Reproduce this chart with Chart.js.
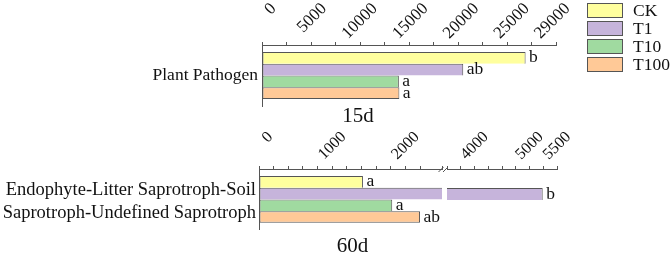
<!DOCTYPE html>
<html>
<head>
<meta charset="utf-8">
<script src="https://cdn.jsdelivr.net/npm/chart.js@4.4.1/dist/chart.umd.min.js"></script>
<style>
  body { margin: 0; background: #fff; }
  #wrap { position: relative; width: 671px; height: 256px; overflow: hidden; }
  canvas { position: absolute; }
  #top { left: 0; top: 0; }
  #botLeft { left: 0; top: 125px; }
  #botRight { left: 447px; top: 125px; }
  .leg { position: absolute; left: 587px; height: 15px; display: flex; align-items: center;
         font: 17.5px 'Liberation Serif', serif; color: #111; white-space: nowrap; }
  .leg i { display: inline-block; width: 36px; height: 15px; box-sizing: border-box;
           border: 1px solid #555; margin-right: 10px; }
</style>
</head>
<body>
<div id="wrap">
  <canvas id="top" width="671" height="125"></canvas>
  <canvas id="botLeft" width="447" height="131"></canvas>
  <canvas id="botRight" width="224" height="131"></canvas>
  <div id="legend"></div>
</div>
<script>
const seriesNames = ['CK', 'T1', 'T10', 'T100'];
const seriesColors = ['#FFFF9E', '#C6B4DB', '#A0DAA0', '#FFC997'];

// 15d panel
const pathogenCategory = ['Plant Pathogen'];
const pathogenValues = [26000, 19850, 13500, 13550];
const pathogenLetters = ['b', 'ab', 'a', 'a'];
const pathogenTicks = [0, 5000, 10000, 15000, 20000, 25000, 29000];

// 60d panel (broken axis 0-2500 | 3500-5500)
const saproCategory = [['Endophyte-Litter Saprotroph-Soil', 'Saprotroph-Undefined Saprotroph']];
const saproValues = [1420, 5240, 1820, 2200];
const saproLetters = ['a', 'b', 'a', 'ab'];
const saproTicksLow = [0, 1000, 2000];
const saproTicksHigh = [4000, 5000, 5500];

const SERIF = "'Liberation Serif', 'Times New Roman', serif";

// rotated tick labels, significance letters, panel caption, axis break
const panelDecor = {
    id: 'panelDecor',
    afterDraw(chart, args, opts) {
        const ctx = chart.ctx;
        const xs = chart.scales.x;
        ctx.save();
        ctx.fillStyle = '#111';

        ctx.font = opts.tickFont;
        ctx.textAlign = 'right';
        ctx.textBaseline = 'middle';
        (opts.ticks || []).forEach(v => {
            ctx.save();
            ctx.translate(xs.getPixelForValue(v) + 11.5, xs.bottom - opts.tickLift);
            ctx.rotate(-Math.PI / 4);
            ctx.fillText(String(v), 0, 0);
            ctx.restore();
        });

        ctx.font = '17.5px ' + SERIF;
        ctx.textAlign = 'left';
        ctx.textBaseline = 'alphabetic';
        chart.data.datasets.forEach((ds, i) => {
            const v = ds.data[0];
            if (v < xs.min || v > xs.max) return;
            const bar = chart.getDatasetMeta(i).data[0];
            ctx.fillText(opts.letters[i], bar.x + 3.5, bar.y + 4.5);
        });

        if (opts.caption) {
            ctx.font = '21px ' + SERIF;
            ctx.textAlign = 'center';
            ctx.textBaseline = 'middle';
            ctx.fillText(opts.caption.text, opts.caption.x, opts.caption.y);
        }

        if (opts.axisBreak) {
            const y = xs.bottom + 0.5;
            const x0 = chart.chartArea.right;
            ctx.strokeStyle = '#555';
            ctx.lineWidth = 1;
            [x0 - 1, x0 + 3.5].forEach(bx => {
                ctx.beginPath();
                ctx.moveTo(bx - 2.5, y + 2.5);
                ctx.lineTo(bx + 2.5, y - 2.5);
                ctx.stroke();
            });
        }
        ctx.restore();
    }
};

function makeDatasets(values) {
    return seriesNames.map((name, i) => ({
        label: name,
        data: [values[i]],
        backgroundColor: seriesColors[i],
        borderColor: '#555',
        borderWidth: { top: 1, right: 1, left: 1, bottom: i === seriesNames.length - 1 ? 1 : 0 },
        borderSkipped: false,
        clip: 0,
        categoryPercentage: 0.77,
        barPercentage: 1
    }));
}

function valueAxis(min, max, step, height) {
    return {
        type: 'linear',
        position: 'top',
        min: min,
        max: max,
        ticks: { display: false, stepSize: step },
        grid: { drawOnChartArea: false, tickLength: 3, color: '#555' },
        border: { color: '#555' },
        afterFit: s => { s.height = height; }
    };
}

function categoryAxis(width, pad, size, shift) {
    return {
        position: 'left',
        grid: { display: false, drawTicks: false },
        border: { color: '#555' },
        ticks: { color: '#111', padding: pad, labelOffset: shift, font: { family: SERIF, size: size, lineHeight: 1.25 } },
        afterFit: s => { s.width = width; }
    };
}

const baseOptions = {
    indexAxis: 'y',
    responsive: false,
    animation: false,
    events: []
};

new Chart(document.getElementById('top'), {
    type: 'bar',
    data: { labels: pathogenCategory, datasets: makeDatasets(pathogenValues) },
    options: {
        ...baseOptions,
        layout: { padding: { right: 115, bottom: 19 } },
        scales: {
            x: valueAxis(0, 29000, 2500, 45),
            y: categoryAxis(262, 4, 17.5, 0)
        },
        plugins: {
            legend: { display: false },
            tooltip: { enabled: false },
            panelDecor: {
                ticks: pathogenTicks, tickFont: '17px ' + SERIF, tickLift: 39,
                letters: pathogenLetters, caption: { text: '15d', x: 358, y: 116 }
            }
        }
    },
    plugins: [panelDecor]
});

new Chart(document.getElementById('botLeft'), {
    type: 'bar',
    data: { labels: saproCategory, datasets: makeDatasets(saproValues) },
    options: {
        ...baseOptions,
        layout: { padding: { right: 5, bottom: 25 } },
        scales: {
            x: valueAxis(0, 2500, 200, 44),
            y: categoryAxis(259, 3, 18.5, 2)
        },
        plugins: {
            legend: { display: false },
            tooltip: { enabled: false },
            panelDecor: {
                ticks: saproTicksLow, tickFont: '16px ' + SERIF, tickLift: 34.5,
                letters: saproLetters, caption: { text: '60d', x: 352.5, y: 121.5 }, axisBreak: true
            }
        }
    },
    plugins: [panelDecor]
});

new Chart(document.getElementById('botRight'), {
    type: 'bar',
    data: { labels: saproCategory, datasets: makeDatasets(saproValues) },
    options: {
        ...baseOptions,
        layout: { padding: { right: 114, bottom: 25 } },
        scales: {
            x: valueAxis(3500, 5500, 250, 44),
            y: { display: false }
        },
        plugins: {
            legend: { display: false },
            tooltip: { enabled: false },
            panelDecor: {
                ticks: saproTicksHigh, tickFont: '16px ' + SERIF, tickLift: 34.5,
                letters: saproLetters
            }
        }
    },
    plugins: [panelDecor]
});

// legend
const legend = document.getElementById('legend');
seriesNames.forEach((name, i) => {
    const row = document.createElement('div');
    row.className = 'leg';
    row.style.top = (3 + i * 18) + 'px';
    row.innerHTML = `<i style="background:${seriesColors[i]}"></i>${name}`;
    legend.appendChild(row);
});
</script>
</body>
</html>
